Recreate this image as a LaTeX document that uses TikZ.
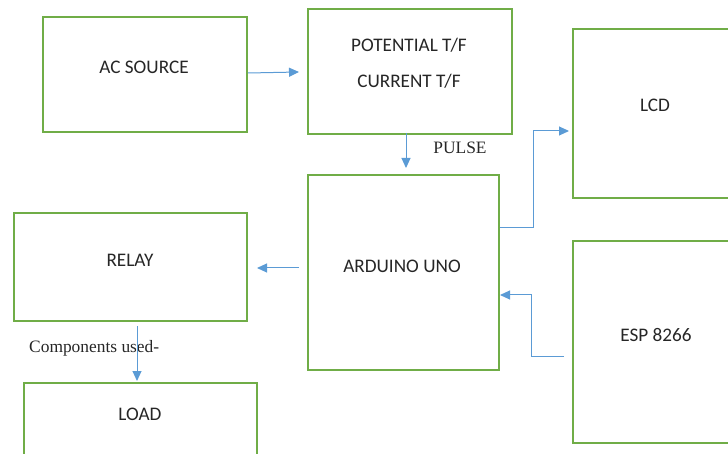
\documentclass[tikz,border=0pt]{standalone}
\usepackage{fontspec}
\setmainfont{Carlito}
\newfontfamily\serifface{Liberation Serif}
\usetikzlibrary{arrows.meta,calc}
\definecolor{boxgreen}{HTML}{70AD47}
\definecolor{arrowblue}{HTML}{5B9BD5}
\begin{document}
\begin{tikzpicture}[x=1pt,y=-1pt,
  blk/.style={draw=boxgreen,line width=2pt,rectangle,inner sep=0pt,anchor=north west},
  lbl/.style={font=\fontsize{19.2}{21}\selectfont,inner sep=0pt,text=black!85},
  slbl/.style={font=\serifface\fontsize{17.4}{19}\selectfont,inner sep=0pt,text=black!85},
  conn/.style={draw=arrowblue,line width=1pt,-{Triangle[length=10pt,width=9pt]}}]
\useasboundingbox (0,0) rectangle (728,454);
\clip (0,0) rectangle (728,454);
% boxes
\node[blk,minimum width=204pt,minimum height=115pt] (ac) at (42,16) {};
\node[blk,minimum width=204pt,minimum height=125pt] (pot) at (307,8) {};
\node[blk,minimum width=170pt,minimum height=169pt] (lcd) at (572,28) {};
\node[blk,minimum width=191pt,minimum height=195pt] (ard) at (307,174) {};
\node[blk,minimum width=233pt,minimum height=108pt] (relay) at (13,212) {};
\node[blk,minimum width=170pt,minimum height=202pt] (esp) at (572,240) {};
\node[blk,minimum width=233pt,minimum height=90pt] (load) at (23,382) {};
% texts
\node[lbl] (tac) at (144,67) {AC SOURCE};
\node[lbl] (tpot) at (409,45) {POTENTIAL T/F};
\node[lbl] (tcur) at (409,81) {CURRENT T/F};
\node[lbl] (tlcd) at (655,105) {LCD};
\node[lbl] (tard) at (402,266) {ARDUINO UNO};
\node[lbl] (trel) at (130,260) {RELAY};
\node[lbl] (tesp) at (656,335) {ESP 8266};
\node[lbl] (tload) at (140,414) {LOAD};
\node[slbl] (pulse) at (460,148) {PULSE};
\node[slbl,anchor=west] (comp) at (29,348) {Components used-};
% connectors
\draw[conn] (ac.east |- 0,73) -- (299,72);
\draw[conn] (406,133) -- (406,168);
\draw[conn] (ard.east |- 0,228) -- (533,228) -- (533,131) -- (569,131);
\draw[conn] (564,356) -- (531,356) -- (531,295) -- (500,295);
\draw[conn] (299,268) -- (257,268);
\draw[conn] (137,326) -- (137,381);
\end{tikzpicture}
\end{document}
